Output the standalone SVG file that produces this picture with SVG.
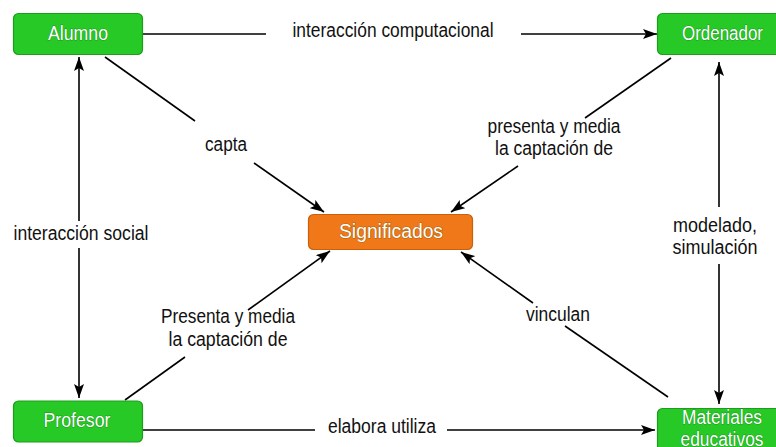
<svg xmlns="http://www.w3.org/2000/svg" width="776" height="447" viewBox="0 0 776 447">
<style>
.lbl{font-family:"Liberation Sans",Arial,sans-serif;font-size:20px;fill:#111;text-anchor:middle}
.ntx{font-family:"Liberation Sans",Arial,sans-serif;font-size:20px;fill:#fff;text-anchor:middle;stroke:rgba(0,60,0,0.35);stroke-width:1.2;paint-order:stroke}
.g{fill:#27c927;stroke:#1c9e1c;stroke-width:1.2}
.o{fill:#f07818;stroke:#c8600c;stroke-width:1.2}
.c line{stroke:#000;stroke-width:1.6}
.a{marker-end:url(#arr)}
</style>
<defs>
<marker id="arr" markerUnits="userSpaceOnUse" markerWidth="14" markerHeight="10" viewBox="0 0 14 10" refX="14" refY="5" orient="auto">
<path d="M0,0 L14,5 L0,10 L3,5 z" fill="#000"/>
</marker>
</defs>
<rect width="776" height="447" fill="#fff"/>
<g class="c" id="connectors">
<line x1="143" y1="34" x2="266" y2="34"/>
<line class="a" x1="521" y1="34" x2="657" y2="34"/>
<line class="a" x1="79" y1="221" x2="79" y2="57"/>
<line class="a" x1="79" y1="248" x2="79" y2="398"/>
<line x1="105" y1="57" x2="195" y2="121"/>
<line class="a" x1="254" y1="163" x2="324" y2="212"/>
<line x1="671" y1="58" x2="585" y2="118"/>
<line class="a" x1="518" y1="166" x2="451" y2="212"/>
<line class="a" x1="719" y1="207" x2="719" y2="62"/>
<line class="a" x1="719" y1="264" x2="719" y2="404"/>
<line x1="125" y1="400" x2="185" y2="357"/>
<line class="a" x1="248" y1="310" x2="330" y2="251"/>
<line x1="668" y1="397" x2="565" y2="326"/>
<line class="a" x1="533" y1="303" x2="461" y2="252"/>
<line x1="143" y1="430" x2="315" y2="430"/>
<line class="a" x1="447" y1="430" x2="655" y2="430"/>
</g>
<g id="labels">
<text class="lbl" x="393" y="37" textLength="201" lengthAdjust="spacingAndGlyphs">interacción computacional</text>
<text class="lbl" x="226" y="151" textLength="42" lengthAdjust="spacingAndGlyphs">capta</text>
<text class="lbl" x="554" y="133" textLength="133" lengthAdjust="spacingAndGlyphs">presenta y media</text>
<text class="lbl" x="554" y="155" textLength="118" lengthAdjust="spacingAndGlyphs">la captación de</text>
<text class="lbl" x="81" y="240" textLength="135" lengthAdjust="spacingAndGlyphs">interacción social</text>
<text class="lbl" x="715" y="232" textLength="84" lengthAdjust="spacingAndGlyphs">modelado,</text>
<text class="lbl" x="715" y="254" textLength="85" lengthAdjust="spacingAndGlyphs">simulación</text>
<text class="lbl" x="228" y="323" textLength="134" lengthAdjust="spacingAndGlyphs">Presenta y media</text>
<text class="lbl" x="228" y="346" textLength="119" lengthAdjust="spacingAndGlyphs">la captación de</text>
<text class="lbl" x="558" y="321" textLength="64" lengthAdjust="spacingAndGlyphs">vinculan</text>
<text class="lbl" x="382" y="433" textLength="108" lengthAdjust="spacingAndGlyphs">elabora utiliza</text>
</g>
<g id="alumno">
<rect class="g" x="13.5" y="13.5" width="129" height="41" rx="5"/>
<text class="ntx" x="78" y="40" textLength="60" lengthAdjust="spacingAndGlyphs">Alumno</text>
</g>
<g id="ordenador">
<rect class="g" x="657.5" y="13.5" width="130" height="41" rx="5"/>
<text class="ntx" x="722.5" y="40" textLength="81" lengthAdjust="spacingAndGlyphs">Ordenador</text>
</g>
<g id="significados">
<rect class="o" x="308.5" y="214.5" width="164" height="35" rx="5"/>
<text class="ntx" x="391" y="238" textLength="104" lengthAdjust="spacingAndGlyphs">Significados</text>
</g>
<g id="profesor">
<rect class="g" x="13.5" y="401" width="129" height="41" rx="5"/>
<text class="ntx" x="77" y="427" textLength="67" lengthAdjust="spacingAndGlyphs">Profesor</text>
</g>
<g id="materiales">
<rect class="g" x="657.5" y="408.5" width="130" height="50" rx="5"/>
<text class="ntx" x="722" y="424" textLength="80" lengthAdjust="spacingAndGlyphs">Materiales</text>
<text class="ntx" x="722" y="446" textLength="83" lengthAdjust="spacingAndGlyphs">educativos</text>
</g>
</svg>
